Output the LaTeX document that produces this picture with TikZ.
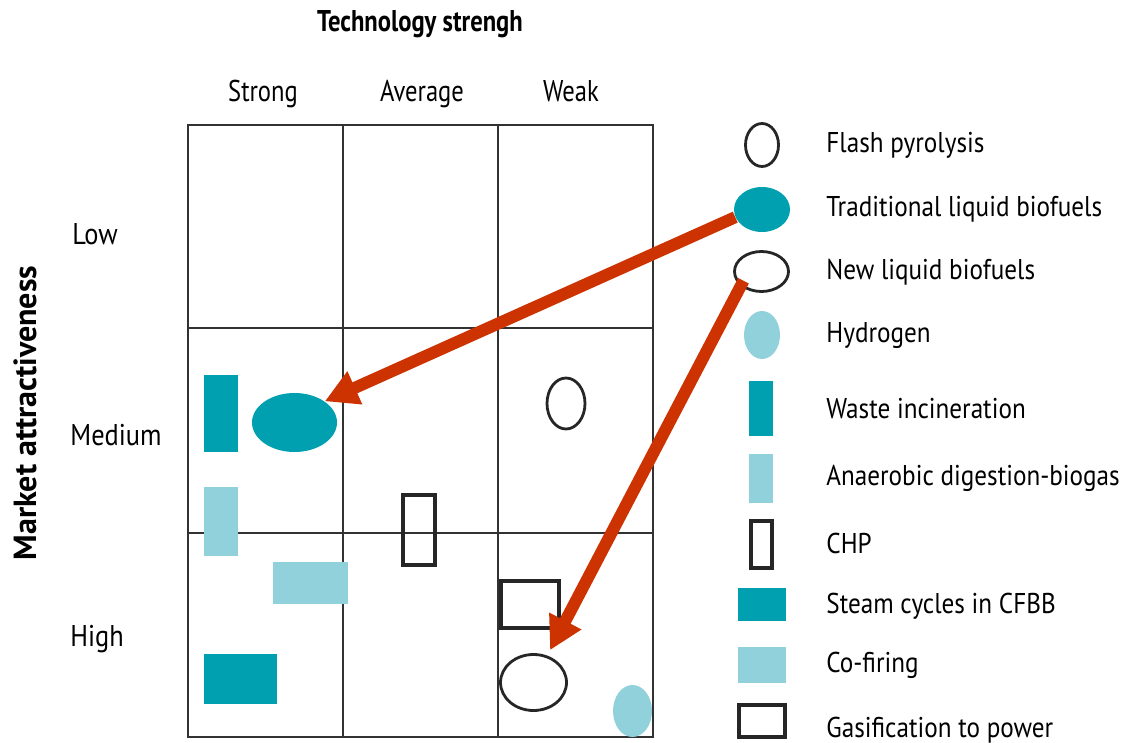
\documentclass[tikz,border=0pt]{standalone}
\usepackage{fontspec}
\setmainfont{PT Sans}[FakeStretch=0.88]
\newfontfamily\headfont{PT Sans}[FakeStretch=0.82]
\newfontfamily\sidefont{PT Sans}
\usetikzlibrary{arrows.meta,shapes.geometric}

\definecolor{tealdark}{RGB}{0,160,176}
\definecolor{teallight}{RGB}{145,209,219}
\definecolor{arrowred}{RGB}{204,51,0}
\definecolor{gridgray}{RGB}{50,50,50}

\tikzset{
	darkbox/.style={rectangle, fill=tealdark, inner sep=0},
	lightbox/.style={rectangle, fill=teallight, inner sep=0},
	openbox/.style={rectangle, draw=black!85, line width=2pt, inner sep=0},
	darkoval/.style={ellipse, fill=tealdark, inner sep=0},
	lightoval/.style={ellipse, fill=teallight, inner sep=0},
	openoval/.style={ellipse, draw=black!85, line width=1.4pt, inner sep=0},
	legtext/.style={anchor=base west, inner sep=0, font=\fontsize{14.3}{16}\selectfont},
	axistext/.style={anchor=base, inner sep=0, font=\headfont\fontsize{15}{17}\selectfont},
	pointer/.style={-{Triangle[length=16.5pt, width=17pt]}, line width=6pt, arrowred},
}

\begin{document}
\begin{tikzpicture}[x=0.5pt, y=-0.5pt]
			\useasboundingbox (0,0) rectangle (1129,743);

			% the 3x3 matrix
			\draw[gridgray, line width=1pt] (188,125) rectangle (653,737);
			\draw[gridgray, line width=1pt] (343,125) -- (343,737) (498,125) -- (498,737);
			\draw[gridgray, line width=1pt] (188,328) -- (653,328) (188,533) -- (653,533);

			% axis labels
			\node (title) [axistext, font=\headfont\fontsize{15}{17}\selectfont\bfseries] at (420,32) {Technology strengh};
			\node (strong) [axistext] at (263,102) {Strong};
			\node (average) [axistext] at (422,102) {Average};
			\node (weak) [axistext] at (571,102) {Weak};
			\node (low) [legtext, font=\fontsize{15}{17}\selectfont] at (72,244) {Low};
			\node (medium) [legtext, font=\fontsize{15}{17}\selectfont] at (70,445) {Medium};
			\node (high) [legtext, font=\fontsize{15}{17}\selectfont] at (70,646) {High};
			\node (market) [rotate=90, inner sep=0, font=\sidefont\fontsize{16}{18}\selectfont\bfseries] at (25,413) {Market attractiveness};

			% technologies inside the matrix
			\node (waste) [darkbox, minimum width=17pt, minimum height=38.5pt] at (221,413.5) {};
			\node (trad) [darkoval, minimum width=42.5pt, minimum height=29.5pt] at (294.5,422.5) {};
			\node (biogas) [lightbox, minimum width=17pt, minimum height=34.5pt] at (221,521.5) {};
			\node (cofire) [lightbox, minimum width=37.5pt, minimum height=21pt] at (310.5,583) {};
			\node (steam) [darkbox, minimum width=36.5pt, minimum height=25pt] at (240.5,679) {};
			\node (chp) [openbox, minimum width=16pt, minimum height=35pt] at (419,530) {};
			\node (flash) [openoval, minimum width=19pt, minimum height=25.5pt] at (566,403.5) {};
			\node (gasif) [openbox, minimum width=29pt, minimum height=23.5pt] at (530,604.5) {};
			\node (newbio) [openoval, minimum width=33pt, minimum height=28pt] at (533.5,682.5) {};
			\node (hydro) [lightoval, minimum width=19.5pt, minimum height=26pt] at (632.5,711) {};

			% legend
			\node (lFlash) [openoval, minimum width=16.5pt, minimum height=21.5pt] at (762,145) {};
			\node (lTrad) [darkoval, minimum width=28pt, minimum height=22.5pt] at (762,209.5) {};
			\node (lNew) [openoval, minimum width=27pt, minimum height=20pt] at (761.5,271.5) {};
			\node (lHydro) [lightoval, minimum width=18pt, minimum height=24pt] at (762,335) {};
			\node (lWaste) [darkbox, minimum width=12pt, minimum height=27.5pt] at (761,408.5) {};
			\node (lBiogas) [lightbox, minimum width=12pt, minimum height=24.5pt] at (761,478.5) {};
			\node (lChp) [openbox, minimum width=10.5pt, minimum height=23.5pt] at (761.5,544.5) {};
			\node (lSteam) [darkbox, minimum width=24pt, minimum height=16.5pt] at (762,604.5) {};
			\node (lCofire) [lightbox, minimum width=24pt, minimum height=18pt] at (762,665) {};
			\node (lGasif) [openbox, minimum width=23pt, minimum height=16pt] at (762,721) {};

			\node (tFlash) [legtext] at (826,153) {Flash pyrolysis};
			\node (tTrad) [legtext] at (826,217) {Traditional liquid biofuels};
			\node (tNew) [legtext] at (826,279) {New liquid biofuels};
			\node (tHydro) [legtext] at (826,342) {Hydrogen};
			\node (tWaste) [legtext] at (826,418) {Waste incineration};
			\node (tBiogas) [legtext] at (826,485) {Anaerobic digestion-biogas};
			\node (tChp) [legtext] at (826,553) {CHP};
			\node (tSteam) [legtext] at (826,613) {Steam cycles in CFBB};
			\node (tCofire) [legtext] at (826,672) {Co-firing};
			\node (tGasif) [legtext] at (826,737) {Gasification to power};

			% moves in the matrix
			\draw[pointer] (lTrad.196) -- (trad.35);
			\draw[pointer, shorten <=-3pt, shorten >=3pt] (lNew.215) -- (newbio.63);

		\end{tikzpicture}
\end{document}
